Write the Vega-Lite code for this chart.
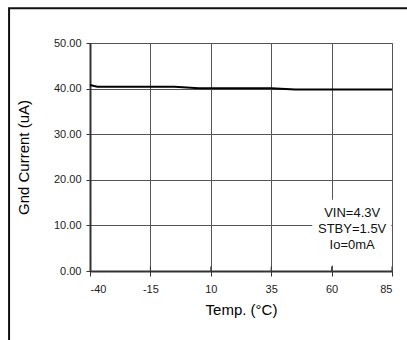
{
  "$schema": "https://vega.github.io/schema/vega-lite/v6.json",
  "width": 302,
  "height": 228,
  "autosize": {"type": "none"},
  "padding": {"left": 90, "top": 43, "right": 15, "bottom": 69},
  "background": "white",
  "config": {
    "view": {"stroke": "#888888", "strokeWidth": 1},
    "font": "Liberation Sans"
  },
  "layer": [
    {
      "data": {"values": [{"x1": -73.5, "x2": 140, "y1": 57.6, "y2": -40}]},
      "mark": {"type": "rect", "fill": null, "stroke": "#111111", "strokeWidth": 2, "clip": false},
      "encoding": {
        "x": {"field": "x1", "type": "quantitative", "scale": {"domain": [-40, 85], "nice": false, "zero": false},
          "axis": {
            "values": [-40, -15, 10, 35, 60, 85],
            "labelExpr": "'' + datum.value",
            "title": "Temp. (°C)",
            "titleFontSize": 15,
            "titleFontWeight": "normal",
            "titleColor": "#000000",
            "titlePadding": 8,
            "labelFontSize": 11,
            "labelColor": "#222222",
            "labelPadding": 7,
            "tickSize": 5,
            "tickColor": "#333333",
            "domainColor": "#333333",
            "domainWidth": 2,
            "gridColor": "#555555",
            "gridWidth": 1,
            "gridOpacity": 1
          }},
        "x2": {"field": "x2"},
        "y": {"field": "y1", "type": "quantitative", "scale": {"domain": [0, 50], "nice": false},
          "axis": {
            "values": [0, 10, 20, 30, 40, 50],
            "format": ".2f",
            "title": "Gnd Current (uA)",
            "titleFontSize": 15,
            "titleFontWeight": "normal",
            "titleColor": "#000000",
            "titlePadding": 22,
            "labelFontSize": 11,
            "labelColor": "#222222",
            "labelPadding": 5,
            "tickSize": 4,
            "tickColor": "#333333",
            "domainColor": "#333333",
            "domainWidth": 2,
            "gridColor": "#555555",
            "gridWidth": 1,
            "gridOpacity": 1
          }},
        "y2": {"field": "y2"}
      }
    },
    {
      "data": {"values": [
        {"temp": -40, "current": 40.8},
        {"temp": -37, "current": 40.4},
        {"temp": -5, "current": 40.4},
        {"temp": 5, "current": 40.1},
        {"temp": 35, "current": 40.1},
        {"temp": 45, "current": 39.8},
        {"temp": 85, "current": 39.8}
      ]},
      "mark": {"type": "line", "color": "#000000", "strokeWidth": 2},
      "encoding": {
        "x": {"field": "temp", "type": "quantitative"},
        "y": {"field": "current", "type": "quantitative"}
      }
    },
    {
      "data": {"values": [{"x1": 52, "x2": 84.7, "y1": 1.2, "y2": 15.6}]},
      "mark": {"type": "rect", "fill": "white", "stroke": null},
      "encoding": {
        "x": {"field": "x1", "type": "quantitative"},
        "x2": {"field": "x2"},
        "y": {"field": "y1", "type": "quantitative"},
        "y2": {"field": "y2"}
      }
    },
    {
      "data": {"values": [{"t": -15}, {"t": 10}, {"t": 35}, {"t": 60}, {"t": 85}]},
      "mark": {"type": "rule", "color": "#333333", "strokeWidth": 1},
      "encoding": {
        "x": {"field": "t", "type": "quantitative"},
        "y": {"datum": 0, "type": "quantitative"},
        "y2": {"datum": 1.0}
      }
    },
    {
      "data": {"values": [
        {"tx": 68.5, "ty": 12.7, "label": "VIN=4.3V"},
        {"tx": 68.5, "ty": 9.2, "label": "STBY=1.5V"},
        {"tx": 68.5, "ty": 5.7, "label": "Io=0mA"}
      ]},
      "mark": {"type": "text", "fontSize": 13, "color": "#111111", "align": "center", "baseline": "middle"},
      "encoding": {
        "x": {"field": "tx", "type": "quantitative"},
        "y": {"field": "ty", "type": "quantitative"},
        "text": {"field": "label"}
      }
    }
  ]
}
